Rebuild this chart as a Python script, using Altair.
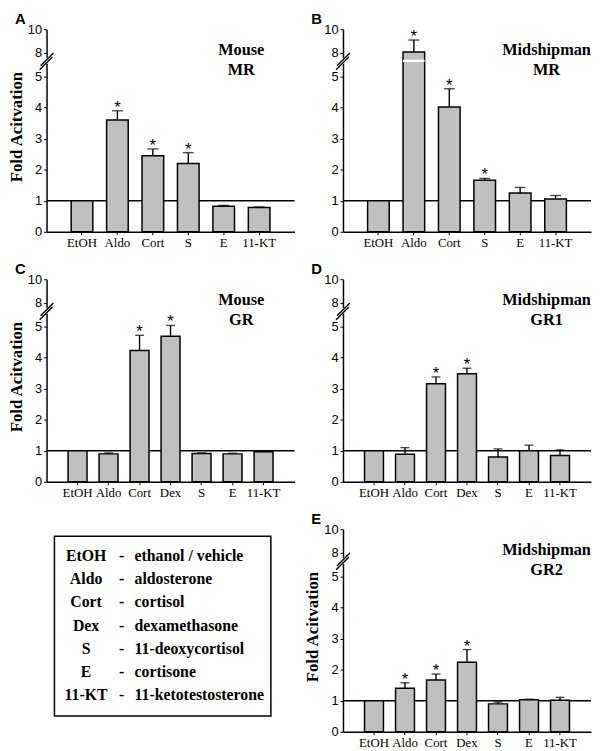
import altair as alt
import pandas as pd

cats6 = ["EtOH", "Aldo", "Cort", "S", "E", "11-KT"]
cats7 = ["EtOH", "Aldo", "Cort", "Dex", "S", "E", "11-KT"]

a_vals = [1.0, 3.60, 2.45, 2.20, 0.82, 0.78]
a_errs = [None, 3.90, 2.67, 2.55, 0.85, 0.80]
a_star = [False, True, True, True, False, False]

b_vals = [1.0, 8.08, 4.02, 1.66, 1.25, 1.06]
b_errs = [None, 9.09, 4.61, 1.72, 1.43, 1.17]
b_star = [False, True, True, True, False, False]

c_vals = [1.0, 0.90, 4.23, 4.69, 0.91, 0.90, 0.97]
c_errs = [None, 0.93, 4.72, 5.15, 0.93, 0.92, 0.99]
c_star = [False, False, True, True, False, False, False]

d_vals = [1.0, 0.89, 3.16, 3.48, 0.80, 1.00, 0.85]
d_errs = [None, 1.10, 3.38, 3.66, 1.06, 1.18, 1.03]
d_star = [False, False, True, True, False, False, False]

e_vals = [1.0, 1.40, 1.67, 2.24, 0.90, 1.03, 1.02]
e_errs = [None, 1.58, 1.86, 2.65, 0.96, 1.05, 1.11]
e_star = [False, True, True, True, False, False, False]

legend_abbr = ["EtOH", "Aldo", "Cort", "Dex", "S", "E", "11-KT"]
legend_desc = ["ethanol / vehicle", "aldosterone", "cortisol", "dexamethasone",
               "11-deoxycortisol", "cortisone", "11-ketotestosterone"]

y_ticks = [0, 1, 2, 3, 4, 5, 8, 10]
W, H = 251, 205
SERIF = "Liberation Serif"
SANS = "Liberation Sans"
BAR_FILL = "#c0c0c0"


def one():
    return alt.Chart(pd.DataFrame({"k": [0]}))


def panel(label, title_lines, cats, vals, errs, stars, ytitle, cap, brk=None):
    df = pd.DataFrame({"cat": cats, "val": vals, "err": errs, "star": stars,
                       "ref": [1.0] * len(cats)})
    base = alt.Chart(df)
    yscale = alt.Scale(domain=[0, 5, 8, 10], range=[H, 48, 24, 0], nice=False, zero=False)
    xscale = alt.Scale(domain=cats, paddingInner=0.39, paddingOuter=0.695)
    xaxis = alt.Axis(title=None, labelAngle=0, labelFont=SERIF, labelFontSize=13,
                     labelColor="black", tickColor="black", tickSize=3,
                     domainColor="black", domainWidth=1.5, labelPadding=2,
                     labelOverlap=False)
    yaxis = alt.Axis(title=None, values=y_ticks, grid=False, labelFont=SANS,
                     labelFontSize=13, labelColor="black", tickColor="black",
                     tickSize=3, domainColor="black", domainWidth=1.5,
                     labelPadding=2, labelOverlap=False, labelFlush=False)
    xn = alt.X("cat:N", sort=cats, scale=xscale, axis=xaxis)

    def Y(f):
        return alt.Y(f, scale=yscale, axis=yaxis)

    ref = base.transform_filter("datum.cat == 'EtOH'").mark_rule(
        color="black", strokeWidth=1.5).encode(y=Y("ref:Q"))
    bars = base.mark_bar(fill=BAR_FILL, stroke="black", strokeWidth=1.5).encode(x=xn, y=Y("val:Q"))
    eb = base.transform_filter("datum.err != null").mark_rule(
        color="black", strokeWidth=1.4).encode(x=xn, y=Y("val:Q"), y2="err:Q")
    caps = base.transform_filter("datum.err != null").mark_tick(
        color="black", thickness=1.4, size=cap, orient="horizontal").encode(
        x=xn, y=Y("err:Q"))
    st = base.transform_filter("datum.star").mark_text(
        text="*", font=SANS, fontSize=17, baseline="alphabetic", dy=2, color="black").encode(
        x=xn, y=Y("err:Q"))
    layers = [ref, bars, eb, caps, st]
    if brk is not None:
        bdf = pd.DataFrame({"cat": [brk[0]], "lo": [brk[1]], "hi": [brk[2]]})
        layers.append(alt.Chart(bdf).mark_bar(fill="white", strokeWidth=0).encode(
            x=xn, y=Y("lo:Q"), y2="hi:Q"))
    # axis break marks
    layers.append(one().mark_rule(color="white", strokeWidth=4).encode(
        x=alt.value(0), x2=alt.value(0), y=alt.value(29), y2=alt.value(35)))
    layers.append(one().mark_rule(color="black", strokeWidth=1.4).encode(
        x=alt.value(-6), x2=alt.value(7), y=alt.value(37), y2=alt.value(24)))
    layers.append(one().mark_rule(color="black", strokeWidth=1.4).encode(
        x=alt.value(-7), x2=alt.value(6), y=alt.value(41), y2=alt.value(28)))
    # panel title (two single lines)
    tx = 197 if len(title_lines[0]) < 8 else 206
    for i, line in enumerate(title_lines):
        layers.append(one().mark_text(text=line, font=SERIF, fontWeight="bold", fontSize=16.5,
                                      align="center", baseline="alphabetic",
                                      color="black").encode(x=alt.value(tx), y=alt.value(26 + 20 * i)))
    # panel letter
    layers.append(one().mark_text(text=label, font=SANS, fontWeight="bold", fontSize=15,
                                  align="left", baseline="alphabetic", color="black").encode(
        x=alt.value(-32), y=alt.value(-5)))
    if ytitle:
        layers.append(one().mark_text(text="Fold Acitvation", font=SERIF, fontWeight="bold",
                                      fontSize=17, angle=270, align="center", baseline="middle",
                                      color="black").encode(x=alt.value(-30), y=alt.value(99)))
    return alt.layer(*layers).properties(width=W, height=H)


A = panel("A", ["Mouse", "MR"], cats6, a_vals, a_errs, a_star, True, 11)
B = panel("B", ["Midshipman", "MR"], cats6, b_vals, b_errs, b_star, False, 11, brk=("Aldo", 6.85, 7.15))
C = panel("C", ["Mouse", "GR"], cats7, c_vals, c_errs, c_star, True, 9)
D = panel("D", ["Midshipman", "GR1"], cats7, d_vals, d_errs, d_star, False, 9)
E = panel("E", ["Midshipman", "GR2"], cats7, e_vals, e_errs, e_star, True, 9)

ldf = pd.DataFrame({"abbr": legend_abbr, "desc": legend_desc})
lbase = alt.Chart(ldf)
ly = alt.Y("abbr:N", sort=legend_abbr,
           scale=alt.Scale(type="point", domain=legend_abbr, range=[27, 168], padding=0),
           axis=None)
box = one().mark_rect(fill="white", stroke="black", strokeWidth=1.5).encode(
    x=alt.value(8), x2=alt.value(227), y=alt.value(7), y2=alt.value(189))
lab = lbase.mark_text(font=SERIF, fontWeight="bold", fontSize=16, align="center",
                      baseline="middle", color="black").encode(x=alt.value(40), y=ly, text="abbr:N")
dash = lbase.mark_text(text="-", font=SERIF, fontWeight="bold", fontSize=16, align="center",
                       baseline="middle", color="black").encode(x=alt.value(76), y=ly)
desc = lbase.mark_text(font=SERIF, fontWeight="bold", fontSize=16, align="left",
                       baseline="middle", color="black").encode(x=alt.value(89), y=ly, text="desc:N")
L = alt.layer(box, lab, dash, desc).properties(width=W, height=H)

chart = alt.concat(A, B, C, D, L, E, columns=2, spacing={"row": 48, "column": 49},
                   bounds="flush").properties(
    padding={"left": 0, "top": 0, "right": 0, "bottom": 0}
).configure_view(strokeWidth=0).configure_axis(grid=False, labelOverlap=False)

chart.save("out.html", embed_options={"renderer": "svg", "actions": False})
